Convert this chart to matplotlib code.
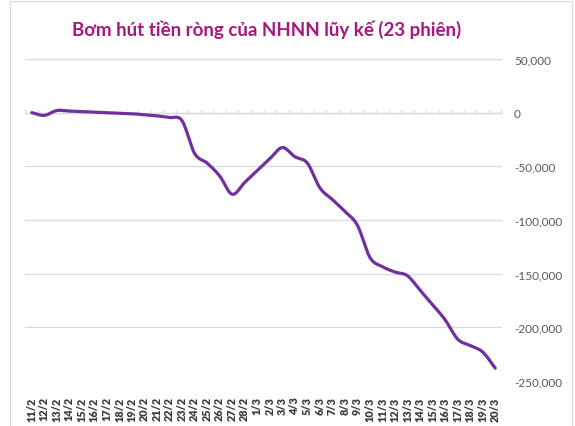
import numpy as np
import matplotlib.pyplot as plt
from matplotlib.patches import Rectangle
from matplotlib.ticker import FuncFormatter

ngay = ['11/2', '12/2', '13/2', '14/2', '15/2', '16/2', '17/2', '18/2', '19/2',
        '20/2', '21/2', '22/2', '23/2', '24/2', '25/2', '26/2', '27/2', '28/2',
        '1/3', '2/3', '3/3', '4/3', '5/3', '6/3', '7/3', '8/3', '9/3', '10/3',
        '11/3', '12/3', '13/3', '14/3', '15/3', '16/3', '17/3', '18/3', '19/3', '20/3']
luy_ke = [0, -2500, 2000, 1500, 1000, 500, 0, -500, -1000,
          -2000, -3000, -4500, -7500, -38000, -47000, -59000, -76000, -65000,
          -54000, -43000, -32500, -41000, -47000, -70000, -81000, -92000, -105000, -135000,
          -143500, -148500, -152000, -165500, -179000, -193000, -211000, -217000, -223000, -238000]

plt.rcParams['font.family'] = ['Lato', 'DejaVu Sans']
plt.rcParams['axes.unicode_minus'] = False


def catmull_rom(x, y, n=20):
    # duong cong tron giong kieu "smoothed line" cua Excel
    x = np.asarray(x, float)
    y = np.asarray(y, float)
    px = np.concatenate([[2 * x[0] - x[1]], x, [2 * x[-1] - x[-2]]])
    py = np.concatenate([[2 * y[0] - y[1]], y, [2 * y[-1] - y[-2]]])
    xs, ys = [], []
    t = np.linspace(0, 1, n, endpoint=False)
    for k in range(1, len(px) - 2):
        for p, out in ((px, xs), (py, ys)):
            p0, p1, p2, p3 = p[k - 1], p[k], p[k + 1], p[k + 2]
            out.extend(0.5 * (2 * p1 + (-p0 + p2) * t + (2 * p0 - 5 * p1 + 4 * p2 - p3) * t ** 2
                              + (-p0 + 3 * p1 - 3 * p2 + p3) * t ** 3))
    xs.append(x[-1])
    ys.append(y[-1])
    return np.array(xs), np.array(ys)


fig = plt.figure(figsize=(5.75, 4.27), dpi=100)
fig.patches.append(Rectangle((10 / 575, -0.01), 562 / 575, 1 - 2 / 427 + 0.01,
                             transform=fig.transFigure, fill=False,
                             edgecolor='#d9d9d9', linewidth=0.8))
ax = fig.add_axes([25.5 / 575, 1 - 382 / 427, 476 / 575, 322 / 427])

x = np.arange(len(ngay))
xs, ys = catmull_rom(x, luy_ke)
ax.plot(xs, ys, color='#7030a0', linewidth=2.3, solid_capstyle='round', zorder=3)

ax.set_xlim(-0.5, len(ngay) - 0.5)
ax.set_ylim(-250000, 50000)
ax.set_yticks(np.arange(-250000, 50001, 50000))
ax.yaxis.set_major_formatter(FuncFormatter(lambda v, p: f'{int(v):,}'))
ax.yaxis.tick_right()
ax.tick_params(axis='y', length=0, pad=9, labelsize=8.5, labelcolor='#595959')
ax.grid(axis='y', color='#d9d9d9', linewidth=0.9)
ax.set_axisbelow(True)

ax.set_xticks(x)
ax.set_xticklabels(ngay, rotation=90, fontweight='heavy', fontsize=7.8, color='#3a3a3a')
ax.tick_params(axis='x', length=0, pad=11)
for s in ax.spines.values():
    s.set_visible(False)

# truc ngang cat o muc 0, co vach chia giua cac ngay
ax.axhline(0, color='#d9d9d9', linewidth=0.9, zorder=1)
for b in np.arange(-0.5, len(ngay), 1.0):
    ax.plot([b, b], [0, 2600], color='#d9d9d9', linewidth=0.8, zorder=1)

fig.text(267 / 575, 1 - 30 / 427, 'Bơm hút tiền ròng của NHNN lũy kế (23 phiên)',
         ha='center', va='center', fontsize=13.5, fontweight='bold', color='#a8177e')

fig.savefig('out.png', dpi=100)
